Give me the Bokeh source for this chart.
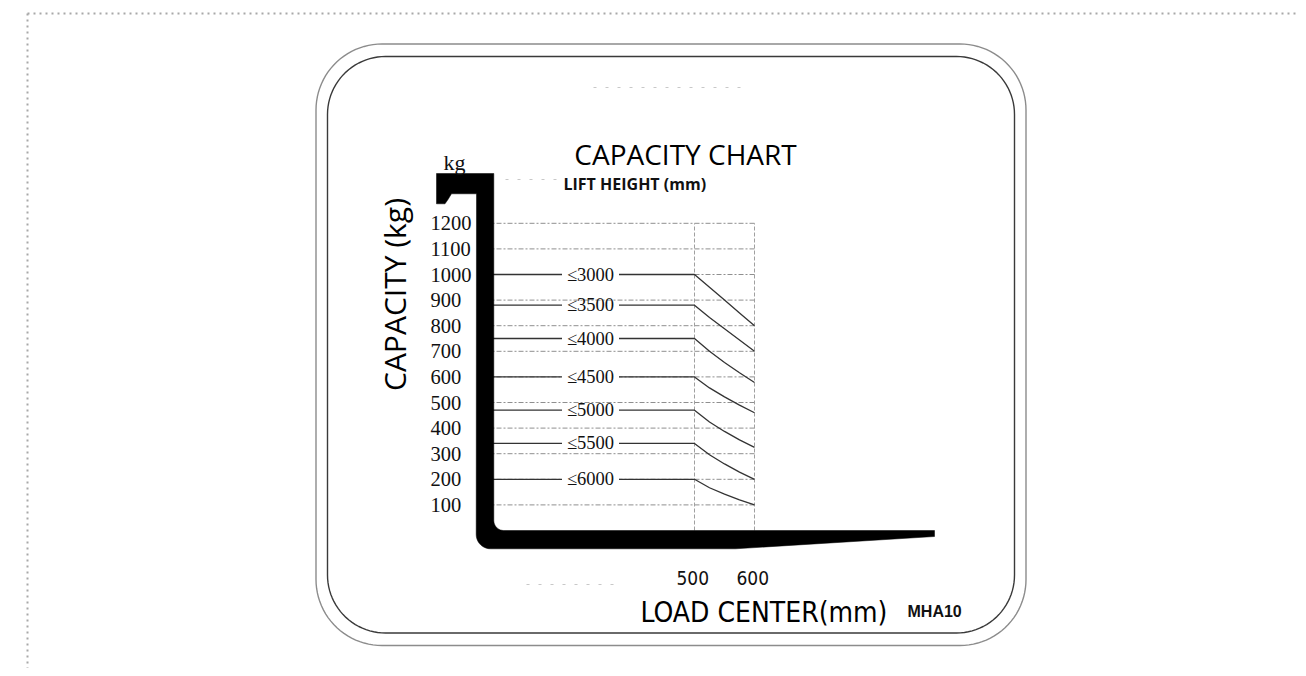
import numpy as np
from bokeh.plotting import figure
from bokeh.models import Range1d, ColumnDataSource
from bokeh.core.properties import value
from bokeh.embed import file_html
from bokeh.resources import INLINE

# ---------------- data ----------------
cap_ticks = [100, 200, 300, 400, 500, 600, 700, 800, 900, 1000, 1100, 1200]
cap_tick_labels = ["100", "200", "300", "400", "500", "600", "700", "800", "900", "1000", "1100", "1200"]
load_centers = [500, 600]
load_center_labels = ["500", "600"]
lift_heights = ["≤3000", "≤3500", "≤4000", "≤4500", "≤5000", "≤5500", "≤6000"]
curve_x = [500, 525, 550, 575, 600]
cap_3000 = [1000, 950, 900, 850, 800]
cap_3500 = [880, 832, 788, 744, 700]
cap_4000 = [750, 700, 656, 616, 578]
cap_4500 = [600, 557, 522, 490, 460]
cap_5000 = [470, 424, 387, 354, 325]
cap_5500 = [340, 296, 260, 228, 200]
cap_6000 = [200, 167, 142, 120, 100]
series = [cap_3000, cap_3500, cap_4000, cap_4500, cap_5000, cap_5500, cap_6000]

# ---------------- layout (page pixel -> data) ----------------
W, H = 1298, 668
OX, OY = 0, 0
PX_PER_MM = 0.6
X0_PIX = 394.0      # page x of 0 mm
PX_PER_KG = 0.256
Y0_PIX = 530.0      # page y of 0 kg

NARROW = value("DejaVu Sans Condensed, Roboto")


def X(px):
    return (px - X0_PIX) / PX_PER_MM


def Y(py):
    return (Y0_PIX - py) / PX_PER_KG


p = figure(width=W, height=H, output_backend="svg", toolbar_location=None,
           x_range=Range1d(X(OX), X(OX + W)), y_range=Range1d(Y(OY + H), Y(OY)),
           min_border=0, min_border_left=0, min_border_right=0,
           min_border_top=0, min_border_bottom=0)
p.xaxis.visible = False
p.yaxis.visible = False
p.grid.visible = False
p.outline_line_color = None
p.background_fill_color = "white"
p.border_fill_color = "white"

# page dotted border (top and left)
p.line([X(27), X(OX + W)], [Y(13), Y(13)], line_color="#a8a8a8", line_width=2, line_dash="2 4")
p.line([X(27), X(27)], [Y(13), Y(OY + H)], line_color="#a8a8a8", line_width=2, line_dash="2 4")


def rrect(x0, y0, x1, y1, r, n=24):
    xs, ys = [], []
    corners = [(x1 - r, y0 + r, -90, 0), (x1 - r, y1 - r, 0, 90),
               (x0 + r, y1 - r, 90, 180), (x0 + r, y0 + r, 180, 270)]
    for cx, cy, a0, a1 in corners:
        t = np.radians(np.linspace(a0, a1, n))
        xs += list(cx + r * np.cos(t))
        ys += list(cy + r * np.sin(t))
    xs.append(xs[0]); ys.append(ys[0])
    return [X(v) for v in xs], [Y(v) for v in ys]


ox, oy = rrect(315.5, 43.5, 1025.5, 645.0, 66)
p.line(ox, oy, line_color="#8c8c8c", line_width=1.4)
ix, iy = rrect(327.0, 56.0, 1014.0, 632.5, 58)
p.line(ix, iy, line_color="#3a3a3a", line_width=1.4)

# faint scan artefacts
for (xa, xb, yy) in [(593, 742, 87), (526, 614, 584), (505, 557, 179)]:
    p.line([X(xa), X(xb)], [Y(yy), Y(yy)], line_color="#c8c8c8", line_width=1.2, line_dash="3 9")

# ---------------- grid ----------------
x_left = X(485)
for c in cap_ticks:
    p.line([x_left, load_centers[-1]], [c, c], line_color="#8f8f8f", line_width=1, line_dash="5 2 2 2")
for lc in load_centers:
    p.line([lc, lc], [0, cap_ticks[-1]], line_color="#a0a0a0", line_width=1, line_dash="4 2")

# ---------------- capacity lines ----------------
for vals in series:
    xs = [x_left] + curve_x
    ys = [vals[0]] + vals
    p.line(xs, ys, line_color="#333333", line_width=1.3)

label_x = X(590)
lab_src = ColumnDataSource(dict(x=[label_x] * len(lift_heights), y=[s[0] for s in series], t=lift_heights))
p.rect(x="x", y="y", width=57, height=4, width_units="screen", height_units="screen",
       fill_color="white", line_color=None, source=lab_src)
p.text(x="x", y="y", text="t", source=lab_src, text_align="center", text_baseline="middle",
       text_font=value("Liberation Serif"), text_font_size="18.5px", text_color="#111111")

# ---------------- fork shape ----------------
pts = [(436, 173), (493.3, 173), (493.3, 520)]
for a in np.linspace(180, 90, 10):
    t = np.radians(a)
    pts.append((503.3 + 10 * np.cos(t), 520 + 10 * np.sin(t)))
pts += [(934, 530), (934, 536), (735, 548.3), (490, 548.3)]
for a in np.linspace(90, 180, 12):
    t = np.radians(a)
    pts.append((490 + 14.3 * np.cos(t), 534 + 14.3 * np.sin(t)))
pts += [(476, 193.3), (451, 193.3), (447.5, 199), (444.5, 203.3), (436, 203.3)]
p.patch([X(a) for a, b in pts], [Y(b) for a, b in pts], fill_color="black", line_color="black", line_width=0.5)

# ---------------- tick labels ----------------
p.text(x=[X(430)] * len(cap_ticks), y=cap_ticks, text=cap_tick_labels, text_align="left",
       text_baseline="middle", text_font=value("Liberation Serif"), text_font_size="20.5px",
       text_color="#111111")
p.text(x=[lc - 3 for lc in load_centers], y=[Y(577)] * 2, text=load_center_labels,
       text_align="center", text_baseline="alphabetic",
       text_font=NARROW, text_font_size="19px", text_color="#111111")

# ---------------- titles ----------------
p.text(x=[X(685)], y=[Y(153.5)], text=["CAPACITY CHART"], text_align="center",
       text_baseline="alphabetic", text_font=value("Open Sans"), text_font_size="28px",
       text_color="#000000")
p.text(x=[X(563)], y=[Y(183.5)], text=["LIFT HEIGHT (mm)"], text_align="left",
       text_baseline="alphabetic", text_font=value("Open Sans"), text_font_size="16px",
       text_font_style="bold", text_color="#111111")
p.text(x=[X(443)], y=[Y(162)], text=["kg"], text_align="left", text_baseline="alphabetic",
       text_font=value("Liberation Serif"), text_font_size="22px", text_color="#111111")
p.text(x=[X(394)], y=[Y(294)], text=["CAPACITY (kg)"], angle=np.pi / 2, text_align="center",
       text_baseline="alphabetic", text_font=value("Open Sans"), text_font_size="30px",
       text_color="#000000")
p.text(x=[X(640)], y=[Y(612)], text=["LOAD CENTER(mm)"], text_align="left",
       text_baseline="alphabetic", text_font=NARROW, text_font_size="28px",
       text_color="#000000")
p.text(x=[X(907)], y=[Y(611)], text=["MHA10"], text_align="left", text_baseline="alphabetic",
       text_font=value("Liberation Sans"), text_font_size="16px", text_font_style="bold",
       text_color="#111111")

open("out.html", "w").write(file_html(p, INLINE))
